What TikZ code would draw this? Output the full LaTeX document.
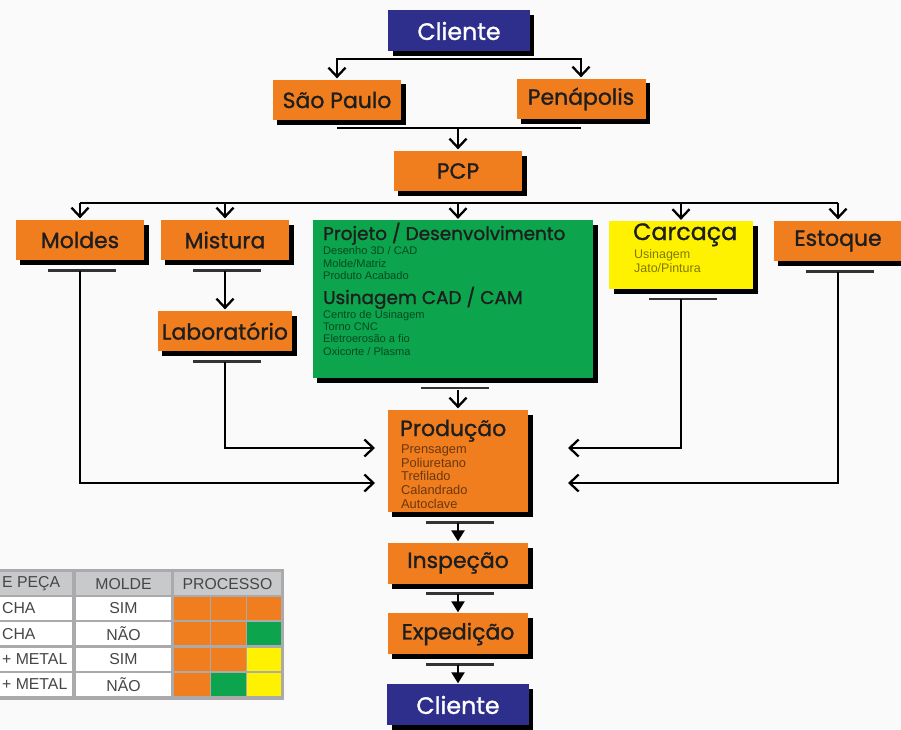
\documentclass[tikz,border=0pt]{standalone}
\usepackage{fontspec}
\setmainfont{Liberation Sans}
\newfontfamily\boxfont{Poppins}[FakeBold=1.2]
\usetikzlibrary{arrows.meta,shadows}

\definecolor{pcorange}{RGB}{240,125,30}
\definecolor{pcgreen}{RGB}{12,164,76}
\definecolor{pcyellow}{RGB}{255,242,0}
\definecolor{pcnavy}{RGB}{46,46,140}
\definecolor{pcink}{RGB}{30,30,30}
\definecolor{bgwhite}{RGB}{250,250,250}
\definecolor{tabgray}{RGB}{170,170,172}
\definecolor{headgray}{RGB}{200,201,203}
\definecolor{tabtext}{RGB}{70,70,70}

\tikzset{
  panel/.style={rectangle, inner sep=0pt,
    drop shadow={shadow xshift=0.9mm, shadow yshift=-1mm, fill=black, opacity=1}},
  pbox/.style={panel, fill=pcorange, text=pcink, minimum width=2.58cm, minimum height=0.82cm,
    font=\boxfont\fontsize{12.5}{14}\selectfont},
  navybox/.style={fill=pcnavy, text=white, minimum width=2.84cm, font=\boxfont\fontsize{13.5}{15}\selectfont},
  headtext/.style={anchor=base west, inner sep=0pt, text=pcink},
  subtext/.style={anchor=base west, inner sep=0pt},
  underbar/.style={line width=1.5pt, black!80},
  celltext/.style={inner sep=0pt, text=tabtext, font=\fontsize{9}{10}\selectfont}
}

\begin{document}
\begin{tikzpicture}[x=0.02cm, y=-0.02cm, >={Straight Barb[length=1.8mm,width=3.4mm]},
    line width=1.3pt, node distance=1.42cm]
\useasboundingbox[fill=bgwhite] (0,0) rectangle (901,729);

% top
\node[pbox, navybox] (cli0) at (459,31) {Cliente};
\node[pbox] (sp) at (337,100) {São Paulo};
\node[pbox] (pen) at (581,99) {Penápolis};
\node[pbox] (pcp) at (458,171) {PCP};

% departments
\node[pbox] (mol) at (80,240) {Moldes};
\node[pbox] (mis) at (225,240) {Mistura};
\node[pbox, minimum width=2.7cm] (lab) at (225,331) {Laboratório};
\node[panel, fill=pcgreen, minimum width=5.62cm, minimum height=3.16cm] (prj) at (453,299) {};
\node[panel, fill=pcyellow, minimum width=2.88cm, minimum height=1.36cm] (car) at (681,255) {};
\node[pbox] (est) at (838,241) {Estoque};

% production chain
\node[panel, fill=pcorange, minimum width=2.82cm, minimum height=2.06cm] (prod) at (458,461) {};
\node[pbox, minimum width=2.82cm] (insp) at (458,563) {Inspeção};
\node[pbox, minimum width=2.82cm, below of=insp] (exp) {Expedição};
\node[pbox, navybox, below of=exp] (cli1) {Cliente};

% texts in the panels
\node[headtext, font=\boxfont\fontsize{10.5}{12}\selectfont] at (322,240) {Projeto / Desenvolvimento};
\foreach \t [count=\i] in {Desenho 3D / CAD, Molde/Matriz, Produto Acabado}
  \node[subtext, text=black!55!pcgreen, font=\fontsize{6.3}{7}\selectfont] at (322,243+12*\i) {\t};
\node[headtext, font=\boxfont\fontsize{10.5}{12}\selectfont] at (322,304) {Usinagem CAD / CAM};
\foreach \t [count=\i] in {Centro de Usinagem, Torno CNC, Eletroerosão a fio, Oxicorte / Plasma}
  \node[subtext, text=black!55!pcgreen, font=\fontsize{6.3}{7}\selectfont] at (322,306+12.3*\i) {\t};

\node[headtext, font=\boxfont\fontsize{13.5}{15}\selectfont] at (632,240) {Carcaça};
\node[subtext, text=black!50!pcyellow, font=\fontsize{7.1}{8}\selectfont] at (633,258) {Usinagem};
\node[subtext, text=black!50!pcyellow, font=\fontsize{7.1}{8}\selectfont] at (633,272) {Jato/Pintura};

\node[headtext, font=\boxfont\fontsize{12.5}{14}\selectfont] at (399,436) {Produção};
\foreach \t [count=\i] in {Prensagem, Poliuretano, Trefilado, Calandrado, Autoclave}
  \node[subtext, text=black!55!pcorange, font=\fontsize{7.3}{8}\selectfont] at (400,440+13.6*\i) {\t};

% connectors
\coordinate (m0) at (459,59);
\draw[->] (m0) -| (sp);
\draw[->] (m0) -| (pen);
\coordinate (m1) at (458,128);
\draw (sp |- m1) -- (pen |- m1);
\draw[->] (m1) -- (pcp);
\coordinate (m2) at (458,203);
\draw (mol |- m2) -- (est |- m2);
\foreach \n in {mol,mis,car,est}
  \draw[->] (\n |- m2) -- (\n);
\draw[->] (m2) -- (m2 |- prj.north);

\foreach \n in {mol,mis,lab,prj,car,est,prod,insp,exp}
  \draw[underbar] (\n.south) ++(-32,9) -- ++(68,0);

\draw[->] (mis.south) ++(0,9) -- (lab);
\coordinate (inL1) at (375,448);
\coordinate (inL2) at (375,483);
\coordinate (inR1) at (568,448);
\coordinate (inR2) at (568,483);
\draw[->] (lab.south) ++(0,9) |- (inL1);
\draw[->] (mol.south) ++(0,9) |- (inL2);
\draw[->] (car.south) ++(0,9) |- (inR1);
\draw[->] (est.south) ++(0,9) |- (inR2);
\draw[->] (m2 |- prj.south) ++(0,11) -- (prod);

\draw[-{Triangle[length=2.2mm,width=2.6mm]}] (prod.south) ++(0,9) -- (insp);
\draw[-{Triangle[length=2.2mm,width=2.6mm]}] (insp.south) ++(0,9) -- (exp);
\draw[-{Triangle[length=2.2mm,width=2.6mm]}] (exp.south) ++(0,9) -- (cli1);

% table
\fill[tabgray] (0,569) rectangle (284,700);
\foreach \a/\b in {-5/72, 76/171, 174/281}
  \fill[headgray] (\a,572) rectangle (\b,595);
\foreach \r in {0,...,3} {
  \fill[white] (-5,597+25.3*\r) rectangle (72,620+25.3*\r);
  \fill[white] (76,597+25.3*\r) rectangle (171,620+25.3*\r);
}
\foreach \r/\ca/\cb/\cc in {0/pcorange/pcorange/pcorange, 1/pcorange/pcorange/pcgreen,
    2/pcorange/pcorange/pcyellow, 3/pcorange/pcgreen/pcyellow} {
  \fill[\ca] (174,597+25.3*\r) rectangle (209.5,620+25.3*\r);
  \fill[\cb] (210.5,597+25.3*\r) rectangle (245.5,620+25.3*\r);
  \fill[\cc] (246.5,597+25.3*\r) rectangle (281,620+25.3*\r);
}
\node[celltext, anchor=west] at (1,584) {E PEÇA};
\node[celltext] at (123.5,584) {MOLDE};
\node[celltext] at (227.5,584) {PROCESSO};
\foreach \t/\m [count=\i from 0] in {CHA/SIM, CHA/NÃO, + METAL/SIM, + METAL/NÃO} {
  \node[celltext, anchor=west] at (1,608.5+25.3*\i) {\t};
  \node[celltext] at (123.5,608.5+25.3*\i) {\m};
}
\end{tikzpicture}
\end{document}
